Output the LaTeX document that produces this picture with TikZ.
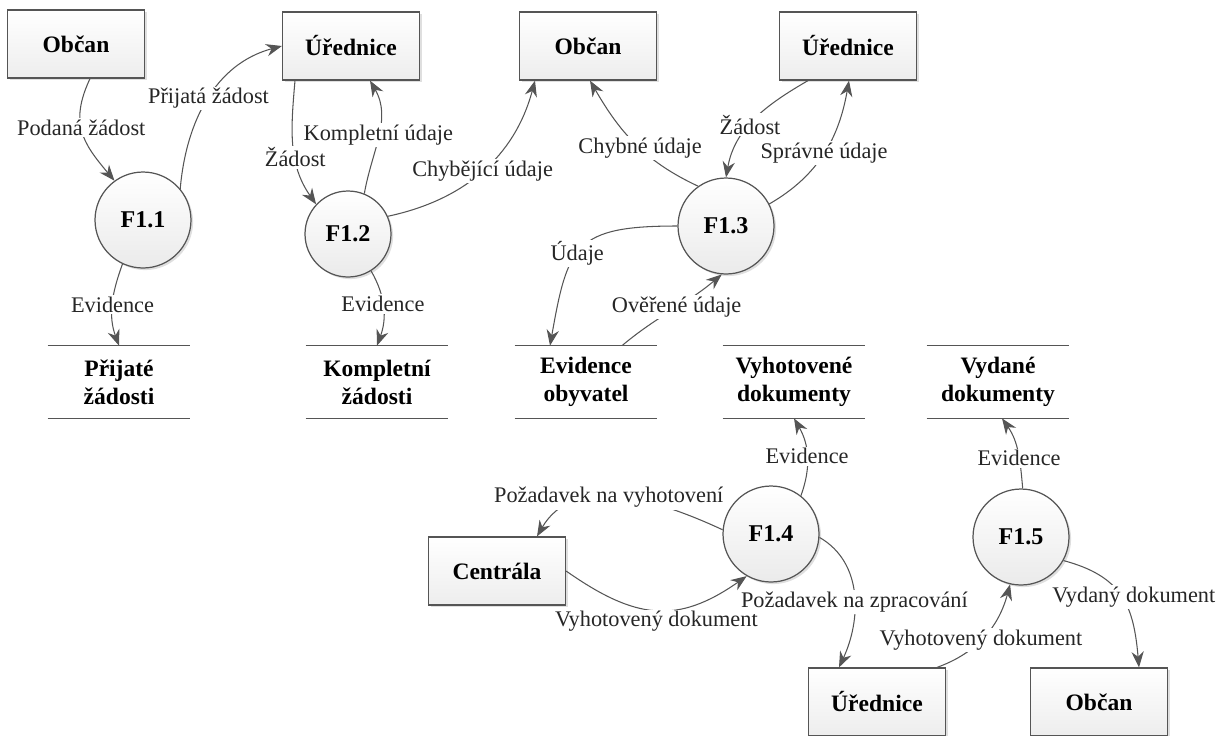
\documentclass[tikz,border=0pt]{standalone}
\usepackage{fontspec}
\setmainfont{Liberation Serif}
\usepackage{xcolor}
\usetikzlibrary{arrows.meta, calc, shadows}

\definecolor{linegray}{HTML}{555555}

\begin{document}
\begin{tikzpicture}[
    x=0.02cm, y=0.02cm,
    box/.style={draw=linegray, rectangle, minimum width=2.74cm, minimum height=1.36cm,
      top color=white, bottom color=gray!14, line width=0.7pt,
      drop shadow={shadow xshift=1.2pt, shadow yshift=-1.2pt, opacity=0.25},
      font=\bfseries\fontsize{13.4}{16}\selectfont},
    proc/.style={draw=linegray, circle, minimum size=1.92cm, inner sep=0pt,
      top color=white, bottom color=gray!16, line width=0.7pt,
      drop shadow={shadow xshift=1.2pt, shadow yshift=-1.2pt, opacity=0.25},
      font=\bfseries\fontsize{13.7}{16}\selectfont},
    store/.style={rectangle, minimum width=2.84cm, minimum height=1.44cm, align=center,
      inner sep=0pt, font=\bfseries\fontsize{13.4}{16}\selectfont},
    flow/.style={draw=linegray, line width=0.6pt, -{Stealth[length=9pt, width=7pt]}},
    lbl/.style={fill=white, inner sep=1pt, text=black!85, font=\fontsize{12.7}{15}\selectfont}
]
\useasboundingbox (0,0) rectangle (1231,-735);

\node[box] (obc1) at (76,-44) {Občan};
\node[box] (ure1) at (351,-46) {Úřednice};
\node[box] (obc2) at (588,-46) {Občan};
\node[box] (ure2) at (848,-46) {Úřednice};
\node[proc] (f11) at (143,-220) {F1.1};
\node[proc, minimum size=1.72cm] (f12) at (348,-234) {F1.2};
\node[proc] (f13) at (726,-226) {F1.3};
\node[proc] (f14) at (771,-534) {F1.4};
\node[proc] (f15) at (1021,-537) {F1.5};
\node[store] (st1) at (119,-382) {Přijaté\\žádosti};
\node[store] (st2) at (377,-382) {Kompletní\\žádosti};
\node[store] (st3) at (586,-382) {Evidence\\obyvatel};
\node[store] (st4) at (794,-382) {Vyhotovené\\dokumenty};
\node[store] (st5) at (998,-382) {Vydané\\dokumenty};
\node[box] (cent) at (497,-571) {Centrála};
\node[box] (ure3) at (877,-702) {Úřednice};
\node[box] (obc3) at (1099,-702) {Občan};

\foreach \s in {st1,st2,st3,st4,st5}
  \draw[linegray, line width=0.9pt] (\s.north west) -- (\s.north east) (\s.south west) -- (\s.south east);

\draw[flow] ($(obc1.south)+(14,0)$) to[out=-115, in=130, looseness=1.2] node[lbl, pos=0.45] {Podaná žádost} (f11.126);
\draw[flow] (f11.40) to[out=85, in=195] node[lbl, pos=0.5] {Přijatá žádost} (ure1.west);
\draw[flow] ($(ure1.south)+(-56,0)$) to[out=-95, in=125] node[lbl, pos=0.6] {Žádost} (f12.137);
\draw[flow] (f12.68) to[out=80, in=-60] node[lbl, pos=0.5] {Kompletní údaje} ($(ure1.south)+(19,0)$);
\draw[flow] (f12.24) to[out=12, in=-105] node[lbl, pos=0.5] {Chybějící údaje} ($(obc2.south)+(-53,0)$);
\draw[flow] (f13.125) to[out=155, in=-60] node[lbl, pos=0.45] {Chybné údaje} ($(obc2.south)+(2,0)$);
\draw[flow] ($(ure2.south)+(-40,0)$) to[out=-150, in=80] node[lbl, pos=0.55] {Žádost} (f13.north);
\draw[flow] (f13.27) to[out=30, in=-100] node[lbl, pos=0.5] {Správné údaje} ($(ure2.south)+(1,0)$);
\draw[flow] (f13.west) to[out=180, in=80, looseness=1.5] node[lbl, pos=0.55] {Údaje} ($(st3.north)+(-36,0)$);
\draw[flow] ($(st3.north)+(36,0)$) to[out=40, in=-140] node[lbl, pos=0.55] {Ověřené údaje} (f13.-95);
\draw[flow] (f11.-115) to[out=-110, in=110] node[lbl, pos=0.5] {Evidence} (st1.north);
\draw[flow] (f12.-58) to[out=-60, in=70] node[lbl, pos=0.45] {Evidence} (st2.north);
\draw[flow] (f14.52) to[out=70, in=-60] node[lbl, pos=0.5] {Evidence} (st4.south);
\draw[flow] (f14.175) to[out=155, in=60] node[lbl, pos=0.55] {Požadavek na vyhotovení} ($(cent.north)+(40,0)$);
\draw[flow] (cent.east) to[out=-35, in=-145, looseness=1.2] node[lbl, pos=0.5, yshift=-6.5pt] {Vyhotovený dokument} (f14.-120);
\draw[flow] (f14.-4) to[out=-30, in=65] node[lbl, pos=0.55] {Požadavek na zpracování} ($(ure3.north)+(-38,0)$);
\draw[flow] ($(ure3.north)+(60,0)$) to[out=20, in=-105] node[lbl, pos=0.45] {Vyhotovený dokument} (f15.-103);
\draw[flow] (f15.88) to[out=95, in=-55] node[lbl, pos=0.4] {Evidence} ($(st5.south)+(4,0)$);
\draw[flow] (f15.-29) to[out=-15, in=95, looseness=1.2] node[lbl, pos=0.5, xshift=7pt] {Vydaný dokument} ($(obc3.north)+(40,0)$);
\end{tikzpicture}
\end{document}
